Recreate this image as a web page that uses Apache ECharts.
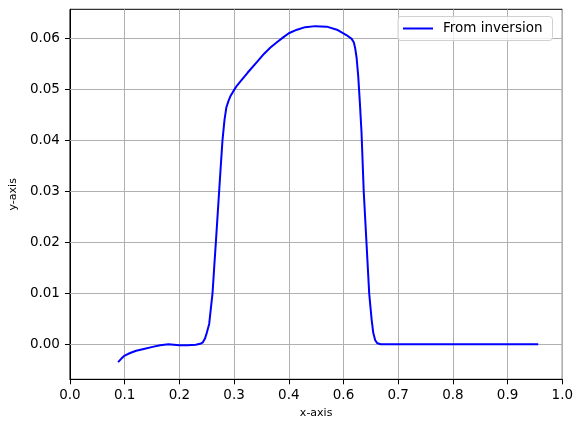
<!DOCTYPE html>
<html>
<head>
<meta charset="utf-8">
<script src="https://cdn.jsdelivr.net/npm/echarts@6/dist/echarts.min.js"></script>
<style>
html,body{margin:0;padding:0;background:#fff;}
#chart{width:583px;height:428px;}
</style>
</head>
<body>
<div id="chart"></div>
<script>
// Tick labels of the x axis as printed (0.5 is absent; ticks are evenly spaced)
const xTickLabels = ['0.0','0.1','0.2','0.3','0.4','0.6','0.7','0.8','0.9','1.0'];
const xTickValues = [0, 0.1, 0.2, 0.3, 0.4, 0.6, 0.7, 0.8, 0.9, 1.0];
const yTickValues = [0, 0.01, 0.02, 0.03, 0.04, 0.05, 0.06];
const seriesName = 'From inversion';

// Curve (x in printed-label units, y in axis units)
const xValues = [0.088,0.094,0.100,0.110,0.121,0.135,0.151,0.165,0.180,0.190,0.200,0.215,0.230,0.238,0.243,0.247,0.250,0.2545,0.2575,0.2606,0.2636,0.2667,0.2697,0.2727,0.2757,0.2788,0.2825,0.2860,0.2900,0.2940,0.2990,0.3050,0.3120,0.3250,0.3420,0.3550,0.3665,0.3800,0.3910,0.4000,0.4300,0.4600,0.4970,0.5390,0.5760,0.6060,0.6150,0.6190,0.6215,0.6240,0.6270,0.6300,0.6330,0.6370,0.6420,0.6470,0.6515,0.6545,0.6580,0.6620,0.6680,0.7000,0.8000,0.9000,0.9560];
const yValues = [-0.0035,-0.0028,-0.0022,-0.0017,-0.00125,-0.0009,-0.0005,-0.0002,0.0000,-0.0001,-0.0002,-0.0002,-0.0001,0.0001,0.0004,0.0012,0.0022,0.0040,0.0070,0.0100,0.0150,0.0200,0.0250,0.0300,0.0350,0.0400,0.0440,0.0465,0.0478,0.0488,0.0497,0.0507,0.0516,0.0533,0.0554,0.0570,0.0582,0.0594,0.0603,0.0610,0.0617,0.0622,0.0624,0.0623,0.0617,0.0606,0.0599,0.0592,0.0580,0.0562,0.0525,0.0473,0.0415,0.0300,0.0200,0.0100,0.0048,0.0022,0.0008,0.0002,0.0000,0,0,0,0];

const yMin = -0.00686, yMax = 0.0657;

// Map a printed x value onto the evenly spaced tick index scale of the axis
function toTickIndex(x) {
  for (let k = 0; k < xTickValues.length - 1; k++) {
    const a = xTickValues[k], b = xTickValues[k + 1];
    if (x <= b || k === xTickValues.length - 2) return k + (x - a) / (b - a);
  }
  return 0;
}
const data = xValues.map((x, i) => [toTickIndex(x), yValues[i]]);

const chart = echarts.init(document.getElementById('chart'), null, {renderer: 'canvas'});
const font = 'DejaVu Sans';
chart.setOption({
  animation: false,
  backgroundColor: '#fff',
  textStyle: {fontFamily: font},
  grid: {left: 66.7, right: 20.7, top: 9.3, bottom: 48.7, show: true, borderColor: '#000', borderWidth: 1, backgroundColor: 'transparent'},
  legend: {
    left: 398, top: 16.5,
    data: [seriesName],
    icon: 'rect', itemWidth: 30, itemHeight: 2,
    padding: [5, 10, 5, 5],
    borderColor: '#d0d0d0', borderWidth: 1, borderRadius: 3,
    backgroundColor: 'rgba(255,255,255,0.8)',
    textStyle: {fontFamily: font, fontSize: 13.5, color: '#000', padding: [0, 0, 0, 5]}
  },
  xAxis: {
    type: 'value', min: 0, max: xTickLabels.length - 1, interval: 1,
    name: 'x-axis', nameLocation: 'middle', nameGap: 27,
    nameTextStyle: {fontFamily: font, fontSize: 11, color: '#000'},
    axisLine: {show: true, onZero: false, lineStyle: {color: '#000', width: 1}},
    axisTick: {show: true, length: 5, lineStyle: {color: '#000', width: 1}},
    axisLabel: {margin: 9, fontFamily: font, fontSize: 13.5, color: '#000',
      formatter: v => xTickLabels[Math.round(v)]},
    splitLine: {show: true, lineStyle: {color: '#b0b0b0', width: 1}}
  },
  yAxis: {
    type: 'value', min: yMin, max: yMax,
    name: 'y-axis', nameLocation: 'middle', nameGap: 47,
    nameTextStyle: {fontFamily: font, fontSize: 11, color: '#000'},
    axisLine: {show: true, onZero: false, lineStyle: {color: '#000', width: 1}},
    axisTick: {show: true, length: 5, lineStyle: {color: '#000', width: 1}, customValues: yTickValues},
    axisLabel: {margin: 10, fontFamily: font, fontSize: 13.5, color: '#000',
      customValues: yTickValues, formatter: v => v.toFixed(2)},
    splitLine: {show: false}
  },
  series: [{
    name: seriesName,
    type: 'line',
    data: data,
    showSymbol: false, symbol: 'none',
    lineStyle: {color: '#0000ff', width: 2},
    itemStyle: {color: '#0000ff'},
    z: 3,
    markLine: {
      silent: true, symbol: ['none', 'none'], animation: false, z: 1,
      label: {show: false},
      lineStyle: {color: '#b0b0b0', width: 1, type: 'solid'},
      emphasis: {disabled: true},
      data: yTickValues.map(v => ({yAxis: v}))
    }
  }]
});
</script>
</body>
</html>
